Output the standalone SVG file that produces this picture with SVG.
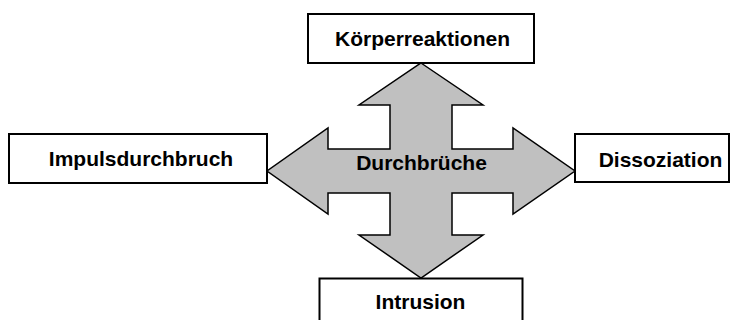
<svg xmlns="http://www.w3.org/2000/svg" width="738" height="320" viewBox="0 0 738 320">
<style>
.box{fill:#fff;stroke:#000;stroke-width:2}
.lbl{font-family:"Liberation Sans",Arial,sans-serif;font-weight:bold;font-size:21px;fill:#000;text-anchor:middle}
.arrow{fill:#c0c0c0;stroke:#000;stroke-width:1.5;stroke-linejoin:miter}
</style>
<rect width="738" height="320" fill="#fff"/>
<g id="connectors">
<polygon class="arrow" points="421,63 483,105 452,105 452,149 513,149 513,128 575,171 513,214 513,193 452,193 452,235 483,235 421,278 359,235 390,235 390,193 328,193 328,214 267,171 328,128 328,149 390,149 390,105 359,105"/>
</g>
<g id="center">
<text class="lbl" x="421.5" y="170">Durchbrüche</text>
</g>
<g id="koerperreaktionen">
<rect class="box" x="308" y="14" width="226" height="49"/>
<text class="lbl" x="422.5" y="45.5">Körperreaktionen</text>
</g>
<g id="impulsdurchbruch">
<rect class="box" x="9" y="134" width="258" height="49"/>
<text class="lbl" x="141" y="165.5">Impulsdurchbruch</text>
</g>
<g id="dissoziation">
<rect class="box" x="575" y="134" width="154" height="48"/>
<text class="lbl" x="660.5" y="166.5">Dissoziation</text>
</g>
<g id="intrusion">
<rect class="box" x="319.5" y="278.5" width="203" height="49"/>
<text class="lbl" x="420.5" y="308.5">Intrusion</text>
</g>
</svg>
